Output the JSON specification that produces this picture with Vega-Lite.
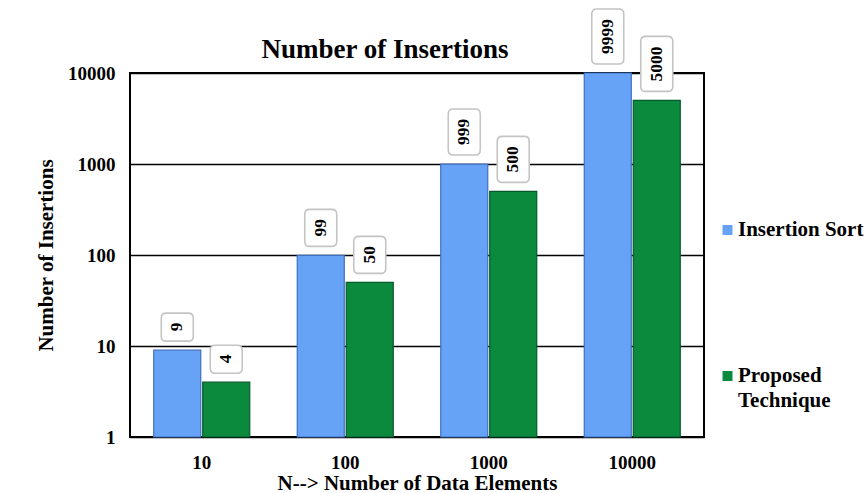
{
  "$schema": "https://vega.github.io/schema/vega-lite/v6.json",
  "width": 574,
  "height": 364,
  "autosize": {"type": "none"},
  "padding": {"left": 130, "top": 73, "right": 164, "bottom": 56},
  "background": "white",
  "title": {
    "text": "Number of Insertions",
    "font": "Liberation Serif",
    "fontSize": 27,
    "fontWeight": "bold",
    "color": "black",
    "anchor": "middle",
    "frame": "group",
    "baseline": "alphabetic",
    "dx": -32,
    "offset": -79
  },
  "data": {
    "values": [
      {"n": "10", "series": "Insertion Sort", "value": 9},
      {"n": "10", "series": "Proposed Technique", "value": 4},
      {"n": "100", "series": "Insertion Sort", "value": 99},
      {"n": "100", "series": "Proposed Technique", "value": 50},
      {"n": "1000", "series": "Insertion Sort", "value": 999},
      {"n": "1000", "series": "Proposed Technique", "value": 500},
      {"n": "10000", "series": "Insertion Sort", "value": 9999},
      {"n": "10000", "series": "Proposed Technique", "value": 5000}
    ]
  },
  "encoding": {
    "x": {
      "field": "n",
      "type": "ordinal",
      "sort": ["10", "100", "1000", "10000"],
      "scale": {"paddingInner": 0.331, "paddingOuter": 0.1655},
      "axis": {
        "title": "N--> Number of Data Elements",
        "labelAngle": 0,
        "labelPadding": 16,
        "titlePadding": 0,
        "ticks": false,
        "domain": false,
        "grid": false
      }
    },
    "xOffset": {
      "field": "series",
      "type": "nominal",
      "scale": {"paddingInner": 0.04}
    },
    "y": {
      "field": "value",
      "type": "quantitative",
      "scale": {"type": "log", "domain": [1, 10000], "nice": false},
      "axis": {
        "title": "Number of Insertions",
        "values": [1, 10, 100, 1000, 10000],
        "format": "d",
        "labelPadding": 15,
        "titlePadding": 11,
        "ticks": false,
        "domain": false,
        "grid": true,
        "gridColor": "black",
        "gridWidth": 1.5,
        "gridOpacity": 1
      }
    }
  },
  "layer": [
    {
      "mark": {"type": "bar", "strokeWidth": 1.2},
      "encoding": {
        "y2": {"datum": 1},
        "color": {
          "field": "series",
          "type": "nominal",
          "scale": {"domain": ["Insertion Sort", "Proposed Technique"], "range": ["#66a3f7", "#0b8a3e"]},
          "legend": {
            "title": null,
            "orient": "none",
            "legendX": 587,
            "legendY": 146.5,
            "symbolType": "square",
            "symbolSize": 100,
            "symbolStrokeWidth": 0,
            "rowPadding": 124,
            "labelOffset": 0,
            "labelLimit": 300,
            "labelExpr": "datum.label == 'Proposed Technique' ? ['Proposed', 'Technique'] : datum.label"
          }
        },
        "stroke": {
          "field": "series",
          "type": "nominal",
          "scale": {"domain": ["Insertion Sort", "Proposed Technique"], "range": ["#3f6fbf", "#05592a"]},
          "legend": null
        }
      }
    },
    {
      "mark": {"type": "point", "filled": true, "fill": "white", "stroke": "#c4c4c4", "strokeWidth": 1.6, "opacity": 1, "size": 4},
      "encoding": {
        "shape": {
          "field": "value",
          "type": "ordinal",
          "scale": {
            "domain": [9, 4, 99, 50, 999, 500, 9999, 5000],
            "range": [
              "M-11,-9L11,-9Q16,-9 16,-14L16,-32Q16,-37 11,-37L-11,-37Q-16,-37 -16,-32L-16,-14Q-16,-9 -11,-9Z",
              "M-11,-9L11,-9Q16,-9 16,-14L16,-32Q16,-37 11,-37L-11,-37Q-16,-37 -16,-32L-16,-14Q-16,-9 -11,-9Z",
              "M-11,-9L11,-9Q16,-9 16,-14L16,-41Q16,-46 11,-46L-11,-46Q-16,-46 -16,-41L-16,-14Q-16,-9 -11,-9Z",
              "M-11,-9L11,-9Q16,-9 16,-14L16,-41Q16,-46 11,-46L-11,-46Q-16,-46 -16,-41L-16,-14Q-16,-9 -11,-9Z",
              "M-11,-9L11,-9Q16,-9 16,-14L16,-50Q16,-55 11,-55L-11,-55Q-16,-55 -16,-50L-16,-14Q-16,-9 -11,-9Z",
              "M-11,-9L11,-9Q16,-9 16,-14L16,-50Q16,-55 11,-55L-11,-55Q-16,-55 -16,-50L-16,-14Q-16,-9 -11,-9Z",
              "M-11,-9L11,-9Q16,-9 16,-14L16,-59Q16,-64 11,-64L-11,-64Q-16,-64 -16,-59L-16,-14Q-16,-9 -11,-9Z",
              "M-11,-9L11,-9Q16,-9 16,-14L16,-59Q16,-64 11,-64L-11,-64Q-16,-64 -16,-59L-16,-14Q-16,-9 -11,-9Z"
            ]
          },
          "legend": null
        }
      }
    },
    {
      "mark": {
        "type": "text",
        "angle": 270,
        "align": "left",
        "baseline": "middle",
        "dx": 19,
        "font": "Liberation Serif",
        "fontSize": 17.5,
        "fontWeight": "bold",
        "color": "black"
      },
      "encoding": {
        "text": {"field": "value", "type": "quantitative", "format": "d"}
      }
    }
  ],
  "config": {
    "view": {"stroke": "black", "strokeWidth": 2},
    "axis": {
      "labelFont": "Liberation Serif",
      "labelFontSize": 19,
      "labelFontWeight": "bold",
      "labelColor": "black",
      "titleFont": "Liberation Serif",
      "titleFontSize": 21,
      "titleFontWeight": "bold",
      "titleColor": "black"
    },
    "legend": {
      "labelFont": "Liberation Serif",
      "labelFontSize": 21,
      "labelFontWeight": "bold",
      "labelColor": "black"
    },
    "style": {
      "guide-label": {"lineHeight": 25}
    }
  }
}
